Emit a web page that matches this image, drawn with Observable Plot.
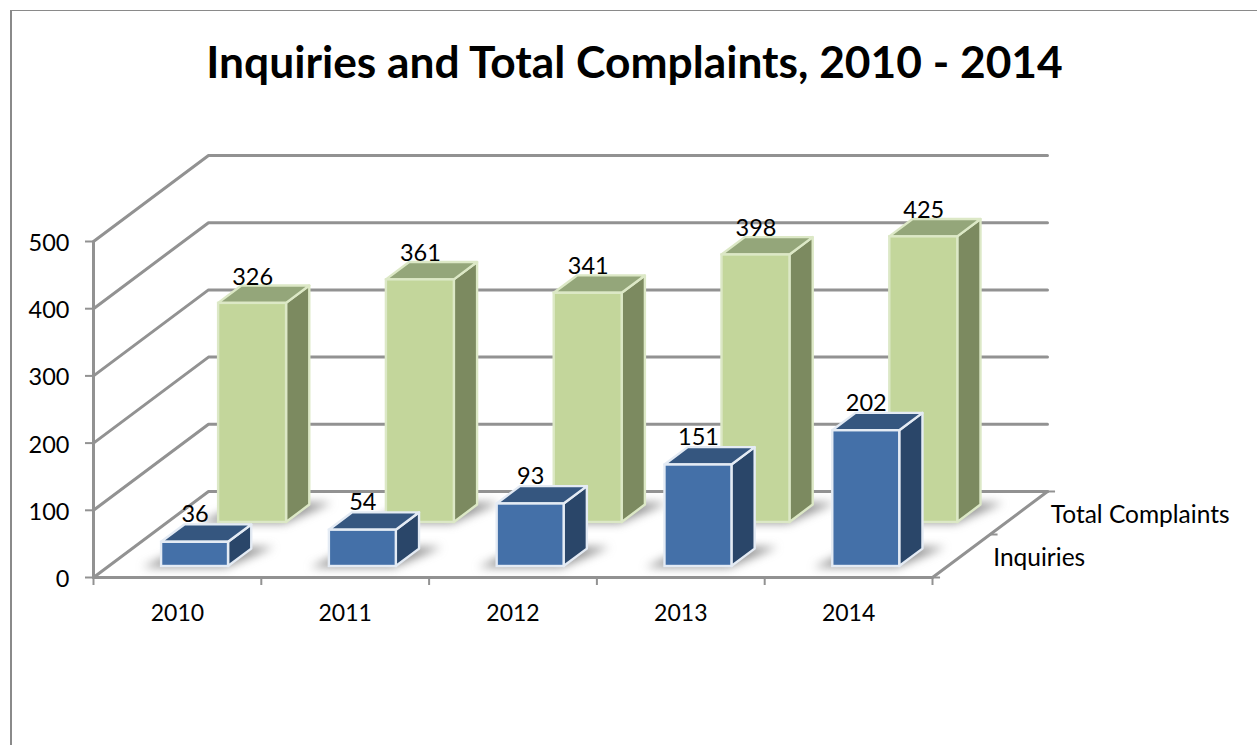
<!DOCTYPE html>
<html>
<head>
<meta charset="utf-8">
<script src="https://cdn.jsdelivr.net/npm/d3@7"></script>
<script src="https://cdn.jsdelivr.net/npm/@observablehq/plot@0.6"></script>
<style>
  html, body { margin: 0; padding: 0; background: #fff; overflow: hidden; }
  #frame { position: absolute; left: 10px; top: 10px; width: 1247px; height: 735px; border-left: 2px solid #8a8a8a; border-top: 1.5px solid #8a8a8a; box-sizing: border-box; overflow: hidden; }
  #title { position: absolute; left: -12px; width: 1269px; top: 23px; margin: 0; text-align: center; font: bold 44.3px Lato, sans-serif; color: #000; white-space: nowrap; }
  #chart { position: absolute; left: -12px; top: -11.5px; width: 1257px; height: 745px; }
  svg { display: block; max-width: none !important; }
</style>
</head>
<body>
<div id="frame">
  <h2 id="title">Inquiries and Total Complaints, 2010 - 2014</h2>
  <div id="chart"></div>
</div>
<script>
const years = ["2010", "2011", "2012", "2013", "2014"];
const inquiries = [36, 54, 93, 151, 202];
const totalComplaints = [326, 361, 341, 398, 425];
const valueTicks = [0, 100, 200, 300, 400, 500];
const seriesNames = ["Inquiries", "Total Complaints"];

// Oblique projection of the 3D chart box onto the two Plot scales
const depthX = 0.6853, depthY = 128;
const X = (c, d) => c + d * depthX;
const Y = (v, d) => v + d * depthY;

const seriesGeom = [
  {values: inquiries, d0: 0.128, d1: 0.33, l: 0.318, r: 0.717, front: "#4470a8", top: "#35567f", side: "#2a4669", edge: "#e4ebf4", label: 10},
  {values: totalComplaints, d0: 0.64, d1: 0.842, l: 0.307, r: 0.712, front: "#c3d69b", top: "#94a67a", side: "#7c8a60", edge: "#dce8c6", label: 9}
];

const gridColor = "#929292";
const font = "Lato, sans-serif";
const labelSize = 23.5;

const gridData = valueTicks.flatMap(v => [
  {v, x: X(0, 0), y: Y(v, 0)},
  {v, x: X(0, 1), y: Y(v, 1)},
  {v, x: X(5, 1), y: Y(v, 1)}
]);
const floorEdge = [
  {x: X(0, 0), y: 0},
  {x: X(5, 0), y: 0},
  {x: X(5, 1), y: Y(0, 1)}
];
const depthTicks = [0, 0.5, 1].map(d => ({y: Y(0, d), x1: X(5, d), x2: X(5, d) + 0.048}));

function barMarks(s) {
  const bars = s.values.map((v, c) => ({c, v}));
  const sideData = bars.flatMap(b => [
    {c: b.c, x: X(b.c + s.r, s.d0), y1: Y(0, s.d0), y2: Y(b.v, s.d0)},
    {c: b.c, x: X(b.c + s.r, s.d1), y1: Y(0, s.d1), y2: Y(b.v, s.d1)}
  ]);
  const topData = bars.flatMap(b => [
    {c: b.c, y: Y(b.v, s.d0), x1: X(b.c + s.l, s.d0), x2: X(b.c + s.r, s.d0)},
    {c: b.c, y: Y(b.v, s.d1), x1: X(b.c + s.l, s.d1), x2: X(b.c + s.r, s.d1)}
  ]);
  const shadowData = bars.flatMap(b => [
    {c: b.c, y: Y(0, s.d0 - 0.015), x1: X(b.c + s.l - 0.1, s.d0 - 0.015), x2: X(b.c + s.r, s.d0 - 0.015)},
    {c: b.c, y: Y(0, s.d1 + 0.02), x1: X(b.c + s.l, s.d1 + 0.02), x2: X(b.c + s.r + 0.12, s.d1 + 0.02)}
  ]);
  return [
    Plot.areaX(shadowData, {y: "y", x1: "x1", x2: "x2", z: "c", fill: "#666", fillOpacity: 0.7, imageFilter: "blur(5px)"}),
    Plot.areaY(sideData, {x: "x", y1: "y1", y2: "y2", z: "c", fill: s.side, stroke: s.edge, strokeWidth: 2.4, strokeLinejoin: "round"}),
    Plot.areaX(topData, {y: "y", x1: "x1", x2: "x2", z: "c", fill: s.top, stroke: s.edge, strokeWidth: 2.4, strokeLinejoin: "round"}),
    Plot.rect(bars, {
      x1: b => X(b.c + s.l, s.d0), x2: b => X(b.c + s.r, s.d0),
      y1: () => Y(0, s.d0), y2: b => Y(b.v, s.d0),
      fill: s.front, stroke: s.edge, strokeWidth: 2.4
    })
  ];
}
function valueLabels(s) {
  return Plot.text(s.values.map((v, c) => ({c, v})), {
    x: b => X(b.c + (s.l + s.r) / 2, s.d0),
    y: b => Y(b.v, s.d1),
    text: b => String(b.v),
    dy: -s.label,
    fontSize: labelSize, fontFamily: font, fill: "#000"
  });
}

const height = 745, width = 1257;
const chart = Plot.plot({
  width, height,
  marginLeft: 93, marginRight: width - 932,
  marginTop: 241, marginBottom: height - 577,
  x: {domain: [0, 5]},
  y: {domain: [0, 500]},
  style: {background: "transparent", fontFamily: font, overflow: "visible"},
  marks: [
    Plot.line(gridData, {x: "x", y: "y", z: "v", stroke: gridColor, strokeWidth: 3, strokeLinejoin: "round"}),
    Plot.line(floorEdge, {x: "x", y: "y", stroke: gridColor, strokeWidth: 3}),
    Plot.ruleX([0], {y1: 0, y2: 500, stroke: gridColor, strokeWidth: 3}),
    Plot.ruleY(depthTicks, {y: "y", x1: "x1", x2: "x2", stroke: gridColor, strokeWidth: 2}),
    Plot.axisY({ticks: valueTicks, tickSize: 8, stroke: gridColor, strokeWidth: 2, label: null, tickFormat: () => ""}),
    Plot.axisY({ticks: valueTicks, tickSize: 0, tickPadding: 24, dy: 2, label: null, fontSize: labelSize, fontFamily: font, fill: "#000", tickFormat: d => String(d)}),
    Plot.axisX({ticks: [0, 1, 2, 3, 4, 5], tickSize: 8, stroke: gridColor, strokeWidth: 2, label: null, tickFormat: () => ""}),
    Plot.axisX({ticks: years.map((_, i) => i + 0.5), tickSize: 0, tickPadding: 27, label: null, fontSize: 23, fontFamily: font, fill: "#000", tickFormat: d => years[d - 0.5]}),
    ...barMarks(seriesGeom[1]),
    ...barMarks(seriesGeom[0]),
    valueLabels(seriesGeom[1]),
    valueLabels(seriesGeom[0]),
    Plot.text(seriesNames, {
      x: (d, i) => X(5, i ? 0.75 : 0.25),
      y: (d, i) => Y(0, i ? 0.75 : 0.25),
      text: d => d,
      dx: 32, dy: 2, textAnchor: "start",
      fontSize: 24.5, fontFamily: font, fill: "#000"
    })
  ]
});
document.getElementById("chart").append(chart);
</script>
</body>
</html>
